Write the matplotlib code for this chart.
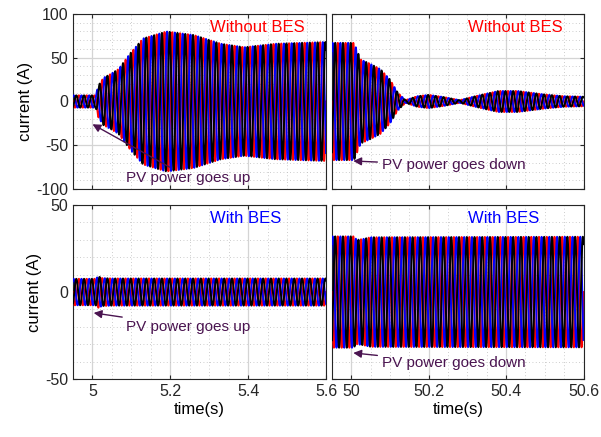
import matplotlib
matplotlib.use("Agg")
import matplotlib.pyplot as plt
import numpy as np

plt.rcParams.update({
    "font.family": ["Liberation Sans", "DejaVu Sans"],
    "font.size": 11,
    "axes.unicode_minus": False,
})

FREQ = 50.0
PHASE_COLORS = ["red", "blue", "black"]
PHASE_SHIFTS = [0.0, -2 * np.pi / 3, 2 * np.pi / 3]

# envelope (peak current, A)
up_nobes_t = [4.95, 5.008, 5.015, 5.028, 5.045, 5.067, 5.097, 5.13, 5.19, 5.26, 5.33, 5.39, 5.47, 5.6]
up_nobes_a = [7, 7, 18, 27, 31, 37, 55, 72, 80, 76, 66, 62, 66, 68]
down_nobes_t = [49.95, 50.007, 50.024, 50.049, 50.075, 50.10, 50.12, 50.14, 50.17, 50.2, 50.24,
                50.28, 50.32, 50.38, 50.43, 50.5, 50.55, 50.6]
down_nobes_a = [67, 67, 48, 43, 37, 25, 10, 1.5, 6, 7.6, 5, 1.5, 6, 12, 12, 8, 6, 5.5]
up_bes_t = [4.95, 5.008, 5.015, 5.025, 5.05, 5.6]
up_bes_a = [7.6, 7.6, 9, 8, 7.8, 7.8]
down_bes_t = [49.95, 50.005, 50.015, 50.03, 50.05, 50.6]
down_bes_a = [32, 32, 30, 30.5, 31.5, 31.8]

PANELS = [
    # (row, col, env_t, env_a, label, label color, arrow tip, text pos, text)
    (0, 0, up_nobes_t, up_nobes_a, "Without BES", "red", (5.0, -26), (5.087, -87), "PV power goes up"),
    (0, 1, down_nobes_t, down_nobes_a, "Without BES", "red", (50.005, -68), (50.078, -73), "PV power goes down"),
    (1, 0, up_bes_t, up_bes_a, "With BES", "blue", (5.003, -12), (5.087, -20), "PV power goes up"),
    (1, 1, down_bes_t, down_bes_a, "With BES", "blue", (50.005, -35), (50.078, -41), "PV power goes down"),
]

XLIMS = [(4.95, 5.6), (49.95, 50.6)]
XTICKS = [[5, 5.2, 5.4, 5.6], [50, 50.2, 50.4, 50.6]]
XTICKLABELS = [["5", "5.2", "5.4", "5.6"], ["50", "50.2", "50.4", "50.6"]]
YLIMS = [(-100, 100), (-50, 50)]
YTICKS = [[-100, -50, 0, 50, 100], [-50, 0, 50]]

ANNOT_COLOR = "#4a1450"

fig = plt.figure(figsize=(6.01, 4.37), dpi=100)
rects = {
    (0, 0): [0.1215, 0.5675, 0.421, 0.4005],
    (0, 1): [0.5524, 0.5675, 0.4185, 0.4005],
    (1, 0): [0.1215, 0.1327, 0.421, 0.398],
    (1, 1): [0.5524, 0.1327, 0.4185, 0.398],
}

for row, col, env_t, env_a, label, lcol, tip, tpos, txt in PANELS:
    ax = fig.add_axes(rects[(row, col)])
    xlim, ylim = XLIMS[col], YLIMS[row]
    t = np.arange(xlim[0], xlim[1] + 1e-4, 1e-4)
    env = np.interp(t, env_t, env_a)
    for c, ph in zip(PHASE_COLORS, PHASE_SHIFTS):
        ax.plot(t, env * np.sin(2 * np.pi * FREQ * t + ph), color=c, lw=1.4, zorder=3)

    ax.set_xlim(*xlim)
    ax.set_ylim(*ylim)
    ax.set_xticks(XTICKS[col])
    ax.set_xticks(np.arange(xlim[0], xlim[1] + 1e-6, 0.05), minor=True)
    ax.set_yticks(YTICKS[row])
    ax.set_yticks(np.arange(ylim[0], ylim[1] + 1e-6, 10), minor=True)
    ax.grid(which="major", color="#d4d4d4", lw=0.9, ls="-", zorder=0)
    ax.grid(which="minor", color="#bdbdbd", lw=0.6, ls=(0, (1, 3)), zorder=0)
    ax.set_axisbelow(True)
    ax.tick_params(which="both", direction="in", top=True, right=True, colors="#262626",
                   labelsize=11.5, length=3)
    ax.tick_params(which="minor", length=0)
    for s in ax.spines.values():
        s.set_color("#262626")
        s.set_linewidth(0.8)

    if row == 1:
        ax.set_xticklabels(XTICKLABELS[col])
        ax.set_xlabel("time(s)", fontsize=12, labelpad=2)
    else:
        ax.set_xticklabels([])
    if col == 0:
        ax.set_yticklabels([str(v) for v in YTICKS[row]])
        ax.set_ylabel("current (A)", fontsize=12, labelpad=2)
    else:
        ax.set_yticklabels([])

    ax.text(0.54, 0.92, label, color=lcol, fontsize=12, transform=ax.transAxes,
            ha="left", va="center", zorder=5)
    ax.annotate(txt, xy=tip, xytext=tpos, color=ANNOT_COLOR, fontsize=11,
                ha="left", va="center", zorder=5,
                arrowprops=dict(arrowstyle="-|>", color=ANNOT_COLOR, lw=1.0,
                                shrinkA=1, shrinkB=0, mutation_scale=12))

fig.savefig("out.png", dpi=100)
